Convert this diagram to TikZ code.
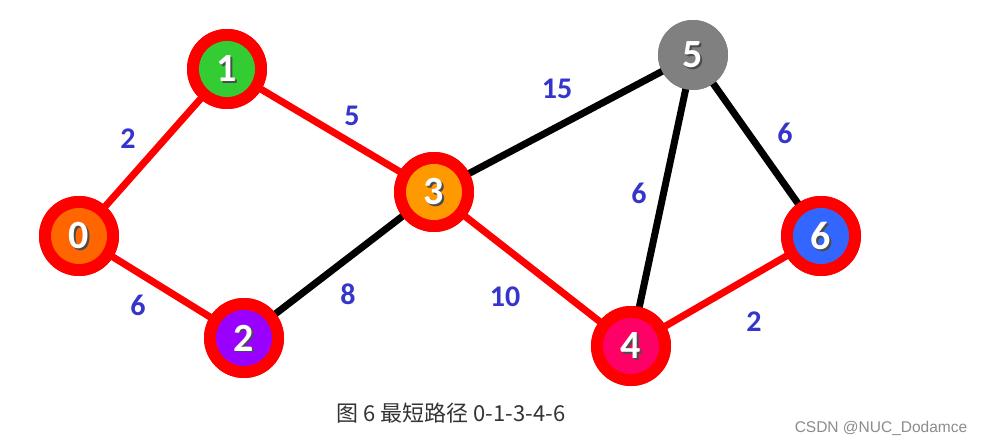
\documentclass[tikz,border=0pt]{standalone}
\usepackage{fontspec}
\setmainfont{Carlito}
\newfontfamily\cjk{Noto Sans CJK SC}
\newfontfamily\wm{Liberation Sans}
\definecolor{ringred}{HTML}{FF0000}
\definecolor{lbl}{HTML}{3535CC}
\definecolor{c0}{HTML}{FF6600}
\definecolor{c1}{HTML}{33CC33}
\definecolor{c2}{HTML}{9900FF}
\definecolor{c3}{HTML}{FF9900}
\definecolor{c4}{HTML}{FF0066}
\definecolor{c5}{HTML}{808080}
\definecolor{c6}{HTML}{3366FF}
\begin{document}
\begin{tikzpicture}[x=1pt,y=-1pt,
  vtx/.style={circle,fill=ringred,minimum size=80pt,inner sep=0pt},
  gvtx/.style={circle,fill=c5,minimum size=70pt,inner sep=0pt},
  core/.style={circle,minimum size=56pt,inner sep=0pt},
  dig/.style={font=\fontsize{40}{40}\selectfont\bfseries,text=white},
  shd/.style={font=\fontsize{40}{40}\selectfont\bfseries,text=black!70},
  redge/.style={draw=ringred,line width=7pt},
  bedge/.style={draw=black,line width=7pt},
  wt/.style={font=\fontsize{30}{30}\selectfont\bfseries,text=lbl}]
\useasboundingbox (0,0) rectangle (984,446);
\fill[white] (0,0) rectangle (984,446);
% ring nodes
\node[vtx] (n0) at (79,236) {};
\node[vtx] (n1) at (227,69) {};
\node[vtx] (n2) at (244,338) {};
\node[vtx] (n3) at (434,192) {};
\node[vtx] (n4) at (631,346) {};
\node[gvtx] (n5) at (693,55) {};
\node[vtx] (n6) at (821,236) {};
% edges
\path[redge] (n0.center) -- (n1.center);
\path[redge] (n0.center) -- (n2.center);
\path[redge] (n1.center) -- (n3.center);
\path[bedge] (n2.center) -- (n3.center);
\path[bedge] (n3.center) -- (n5.center);
\path[redge] (n3.center) -- (n4.center);
\path[bedge] (n5.center) -- (n4.center);
\path[bedge] (n5.center) -- (n6.center);
\path[redge] (n4.center) -- (n6.center);
% redraw discs over edges
\foreach \n/\c in {n0/c0,n1/c1,n2/c2,n3/c3,n4/c4,n6/c6}{
  \node[vtx] at (\n) {};
  \node[core,fill=\c] at (\n) {};
}
\node[gvtx] at (n5) {};
\foreach \n/\t in {n0/0,n1/1,n2/2,n3/3,n4/4,n5/5,n6/6}{
  \node[shd] at ([shift={(1.5,1.5)}]\n) {\t};
  \node[dig] at (\n) {\t};
}
% weights
\node[wt] (w01) at (128,139) {2};
\node[wt] (w13) at (352,116) {5};
\node[wt] (w35) at (557,89) {15};
\node[wt] (w54) at (639,193) {6};
\node[wt] (w56) at (785,133) {6};
\node[wt] (w02) at (138,305) {6};
\node[wt] (w23) at (348,294) {8};
\node[wt] (w34) at (505,297) {10};
\node[wt] (w46) at (754,322) {2};
% caption
\node[font=\fontsize{22}{22}\selectfont\cjk,text=black!80] (cap) at (451,413) {图 6 最短路径 0-1-3-4-6};
\node[font=\fontsize{15.5}{15.5}\selectfont\wm,text=black!45] (wmk) at (881,428) {CSDN @NUC\_Dodamce};
\end{tikzpicture}
\end{document}
